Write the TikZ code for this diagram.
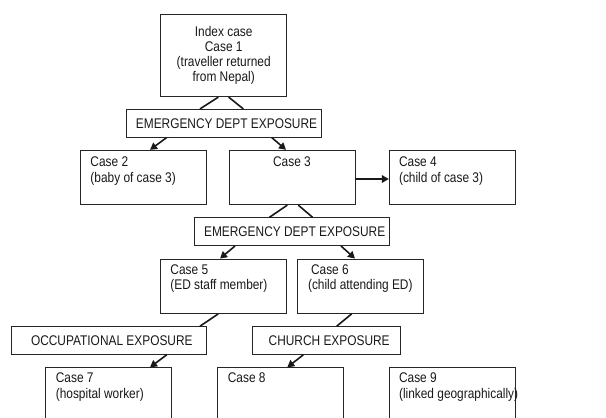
\documentclass[tikz,border=0pt]{standalone}
\usepackage{fontspec}
\setmainfont{Liberation Sans}[FakeStretch=0.85]
\usetikzlibrary{calc,arrows.meta}
\begin{document}
\begin{tikzpicture}[x=1pt,y=-1pt,
  font=\fontsize{14}{15.2}\selectfont,
  box/.style={draw=black!85, line width=0.9pt, rectangle, inner sep=0pt, minimum width=126pt, minimum height=54.4pt},
  expo/.style={draw=black!85, line width=0.9pt, rectangle, inner sep=0pt, minimum height=27.7pt},
  lbl/.style={inner sep=0pt, align=left, anchor=north west, text=black!90},
  conn/.style={line width=1.6pt, draw=black!90},
  arr/.style={conn, -{Triangle[length=7pt,width=7.5pt]}}]
\clip (0,0) rectangle (606,418);
\fill[white] (0,0) rectangle (606,418);
% top box
\node[box, minimum height=82.4pt, align=center, text=black!90] (c1) at (223.7,55.5)
  {Index case\\Case 1\\(traveller returned\\from Nepal)};
% exposure boxes
\node[expo, minimum width=195pt, text=black!90] (ed1) at (223.5,123.2) {\hspace{6pt}EMERGENCY DEPT EXPOSURE};
\node[expo, minimum width=194.7pt, text=black!90] (ed2) at (291.7,231.7) {\hspace{6pt}EMERGENCY DEPT EXPOSURE};
\node[expo, minimum width=194.3pt, text=black!90] (occ) at (108.8,340.5) {\hspace{6pt}OCCUPATIONAL EXPOSURE};
\node[expo, minimum width=147.7pt, text=black!90] (chu) at (326.2,340.5) {\hspace{6pt}CHURCH EXPOSURE};
% case boxes
\node[box] (c2) at (143.3,177.5) {};
\node[box] (c3) at (292,177.5) {};
\node[box] (c4) at (452.3,177.5) {};
\node[box] (c5) at (223.7,286.2) {};
\node[box] (c6) at (360.8,286.2) {};
\node[box] (c7) at (108.8,395) {};
\node[box] (c8) at (280.5,395) {};
\node[box] (c9) at (452.3,395) {};
% labels
\node[lbl] (t2) at ($(c2.north west)+(10.4,7)$) {Case 2\\(baby of case 3)};
\node[lbl, anchor=north] (t3) at ($(c3.north)+(0,7)$) {Case 3};
\node[lbl] (t4) at ($(c4.north west)+(10,7)$) {Case 4\\(child of case 3)};
\node[lbl] (t5) at ($(c5.north west)+(10,5.5)$) {Case 5\\(ED staff member)};
\node[lbl] (t6) at ($(c6.north west)+(10.5,5.5)$) {\hspace{3pt}Case 6\\(child attending ED)};
\node[lbl] (t7) at ($(c7.north west)+(10.3,5.5)$) {Case 7\\(hospital worker)};
\node[lbl] (t8) at ($(c8.north west)+(10.6,5.5)$) {Case 8};
\node[lbl] (t9) at ($(c9.north west)+(10,5.5)$) {Case 9\\(linked geographically)};
% connectors
\draw[conn] ($(c1.south)+(-5.4,0)$) -- ($(ed1.north)+(-23.5,0)$);
\draw[conn] ($(c1.south)+(5,0)$) -- ($(ed1.north)+(19.8,0)$);
\draw[arr] ($(ed1.south)+(-56.8,0)$) -- ($(c2.north)+(6.7,0)$);
\draw[arr] ($(ed1.south)+(48.2,0)$) -- ($(c3.north)+(-6,0)$);
\draw[arr] ($(c3.east)+(0,1.5)$) -- ($(c4.west)+(0,1.5)$);
\draw[conn] ($(c3.south)+(-4.7,0)$) -- ($(ed2.north)+(-22.4,0)$);
\draw[conn] ($(c3.south)+(6.3,0)$) -- ($(ed2.north)+(21,0)$);
\draw[arr] ($(ed2.south)+(-56.7,0)$) -- ($(c5.north)+(-3.7,0)$);
\draw[arr] ($(ed2.south)+(49.3,0)$) -- ($(c6.north)+(-5.8,0)$);
\draw[conn] ($(c5.south)+(-5.4,0)$) -- ($(occ.north)+(91.2,0)$);
\draw[conn] ($(c6.south)+(-9.1,0)$) -- ($(chu.north)+(10.5,0)$);
\draw[arr] ($(occ.south)+(57.9,0)$) -- ($(c7.north)+(41.2,0)$);
\draw[arr] ($(chu.south)+(-22.9,0)$) -- ($(c8.north)+(6.8,0)$);
\end{tikzpicture}
\end{document}
